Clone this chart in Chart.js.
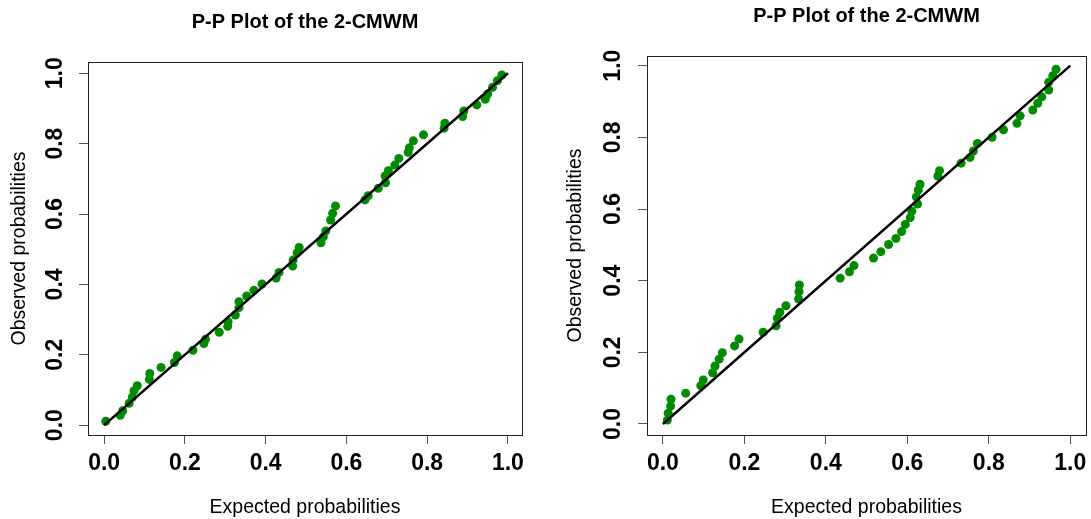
<!DOCTYPE html>
<html>
<head>
<meta charset="utf-8">
<title>P-P Plots of the 2-CMWM</title>
<script src="https://cdn.jsdelivr.net/npm/chart.js@4.4.1/dist/chart.umd.min.js"></script>
<style>
  html, body { margin: 0; padding: 0; background: #fff; overflow: hidden; }
  #wrap { position: relative; width: 1091px; height: 519px; }
  canvas { position: absolute; top: 0; }
</style>
</head>
<body>
<div id="wrap">
  <canvas id="ppLeft" width="606" height="519" style="left:0px"></canvas>
  <canvas id="ppRight" width="600" height="519" style="left:560px"></canvas>
</div>
<script>
// --- data ---
const tickValues = [0, 0.2, 0.4, 0.6, 0.8, 1.0];
const refLine = [0, 1];

const leftExpected = [0.004, 0.040, 0.046, 0.062, 0.070, 0.074, 0.082, 0.112, 0.113, 0.141,
  0.174, 0.181, 0.220, 0.247, 0.251, 0.285, 0.306, 0.307, 0.325, 0.334,
  0.334, 0.353, 0.371, 0.391, 0.426, 0.433, 0.467, 0.468, 0.478, 0.483,
  0.537, 0.543, 0.549, 0.561, 0.566, 0.573, 0.646, 0.654, 0.679, 0.697,
  0.696, 0.704, 0.720, 0.730, 0.753, 0.756, 0.766, 0.791, 0.842, 0.844,
  0.888, 0.891, 0.923, 0.944, 0.950, 0.962, 0.974, 0.985];
const leftObserved = [0.011, 0.028, 0.041, 0.062, 0.080, 0.098, 0.112, 0.130, 0.147, 0.164,
  0.178, 0.197, 0.213, 0.232, 0.244, 0.264, 0.281, 0.294, 0.313, 0.334,
  0.351, 0.367, 0.383, 0.401, 0.418, 0.434, 0.452, 0.469, 0.490, 0.505,
  0.518, 0.535, 0.552, 0.583, 0.602, 0.623, 0.640, 0.652, 0.673, 0.689,
  0.708, 0.723, 0.739, 0.758, 0.775, 0.788, 0.808, 0.825, 0.844, 0.858,
  0.877, 0.893, 0.910, 0.926, 0.941, 0.960, 0.979, 0.995];

const rightExpected = [0.011, 0.013, 0.019, 0.020, 0.056, 0.093, 0.099, 0.122, 0.128, 0.138,
  0.146, 0.176, 0.187, 0.246, 0.278, 0.281, 0.287, 0.302, 0.333, 0.334,
  0.335, 0.435, 0.458, 0.469, 0.517, 0.535, 0.554, 0.572, 0.586, 0.595,
  0.607, 0.611, 0.625, 0.622, 0.627, 0.631, 0.675, 0.679, 0.732, 0.754,
  0.762, 0.772, 0.808, 0.836, 0.869, 0.877, 0.908, 0.920, 0.930, 0.947,
  0.947, 0.957, 0.965];
const rightObserved = [0.011, 0.030, 0.050, 0.069, 0.086, 0.107, 0.123, 0.143, 0.162, 0.181,
  0.199, 0.218, 0.237, 0.256, 0.274, 0.295, 0.312, 0.330, 0.349, 0.369,
  0.388, 0.407, 0.425, 0.442, 0.463, 0.481, 0.501, 0.518, 0.537, 0.557,
  0.576, 0.594, 0.614, 0.634, 0.653, 0.669, 0.692, 0.707, 0.728, 0.744,
  0.762, 0.783, 0.800, 0.821, 0.839, 0.860, 0.876, 0.895, 0.913, 0.932,
  0.954, 0.972, 0.990];

const FONT = "'Liberation Sans', Arial, Helvetica, sans-serif";
const POINT_GREEN = '#008B00';

// R-style box around the plotting region
const frameBox = {
  id: 'frameBox',
  afterDatasetsDraw(chart) {
    const { ctx, chartArea: a } = chart;
    ctx.save();
    ctx.strokeStyle = '#222';
    ctx.lineWidth = 1;
    ctx.strokeRect(Math.round(a.left) + 0.5, Math.round(a.top) + 0.5,
      Math.round(a.right - a.left), Math.round(a.bottom - a.top));
    ctx.restore();
  }
};

function axisTicks(scale) {
  scale.ticks = tickValues.map(v => ({ value: v }));
}

function makePPChart(canvasId, expected, observed, layout) {
  const points = expected.map((x, i) => ({ x: x, y: observed[i] }));
  const line = refLine.map(v => ({ x: v, y: v }));

  return new Chart(document.getElementById(canvasId), {
    type: 'scatter',
    data: {
      datasets: [
        {
          type: 'line',
          data: line,
          borderColor: '#000',
          borderWidth: 2.5,
          pointRadius: 0,
          fill: false
        },
        {
          data: points,
          pointRadius: 4.5,
          pointHoverRadius: 4.5,
          pointBackgroundColor: POINT_GREEN,
          pointBorderWidth: 0
        }
      ]
    },
    options: {
      responsive: false,
      animation: false,
      layout: { padding: layout.padding },
      plugins: {
        legend: { display: false },
        tooltip: { enabled: false },
        title: {
          display: true,
          fullSize: false,   // centre the title over the plot box, as R does
          text: 'P-P Plot of the 2-CMWM',
          color: '#000',
          font: { family: FONT, size: 20, weight: 'bold' },
          padding: layout.titlePad
        }
      },
      scales: {
        x: {
          type: 'linear',
          min: layout.xRange[0],
          max: layout.xRange[1],
          afterBuildTicks: axisTicks,
          afterFit(scale) { scale.height = 84; },
          grid: { drawOnChartArea: false, drawTicks: true, tickLength: 9, color: '#555' },
          border: { display: false },
          ticks: {
            color: '#000',
            padding: 6,
            autoSkip: false,
            maxRotation: 0,
            font: { family: FONT, size: 23, weight: 'bold' },
            callback: v => v.toFixed(1)
          },
          title: {
            display: true,
            text: 'Expected probabilities',
            color: '#000',
            font: { family: FONT, size: 19.5 },
            padding: { top: 1.3, bottom: 0 }
          }
        },
        y: {
          type: 'linear',
          min: layout.yRange[0],
          max: layout.yRange[1],
          afterBuildTicks: axisTicks,
          afterFit(scale) { scale.width = layout.yAxisWidth; },
          grid: { drawOnChartArea: false, drawTicks: true, tickLength: 9, color: '#555' },
          border: { display: false },
          ticks: {
            color: '#000',
            padding: layout.yTickPad,
            autoSkip: false,
            minRotation: 90,
            maxRotation: 90,
            crossAlign: 'center',
            font: { family: FONT, size: 23, weight: 'bold' },
            callback: v => v.toFixed(1)
          },
          title: {
            display: true,
            text: 'Observed probabilities',
            color: '#000',
            font: { family: FONT, size: 19.5 },
            padding: { top: layout.yTitlePad, bottom: 0 }
          }
        }
      }
    },
    plugins: [frameBox]
  });
}

makePPChart('ppLeft', leftExpected, leftObserved, {
  padding: { left: 0, right: 84, top: 0, bottom: 0 },
  titlePad: { top: 10, bottom: 28 },
  yAxisWidth: 88,
  yTickPad: 7,
  yTitlePad: 8.3,
  xRange: [-0.04, 1.035],
  yRange: [-0.028, 1.032]
});

makePPChart('ppRight', rightExpected, rightObserved, {
  padding: { left: 0, right: 74, top: 0, bottom: 0 },
  titlePad: { top: 4, bottom: 28 },
  yAxisWidth: 87,
  yTickPad: 8,
  yTitlePad: 4.3,
  xRange: [-0.039, 1.0385],
  yRange: [-0.0307, 1.027]
});
</script>
</body>
</html>
